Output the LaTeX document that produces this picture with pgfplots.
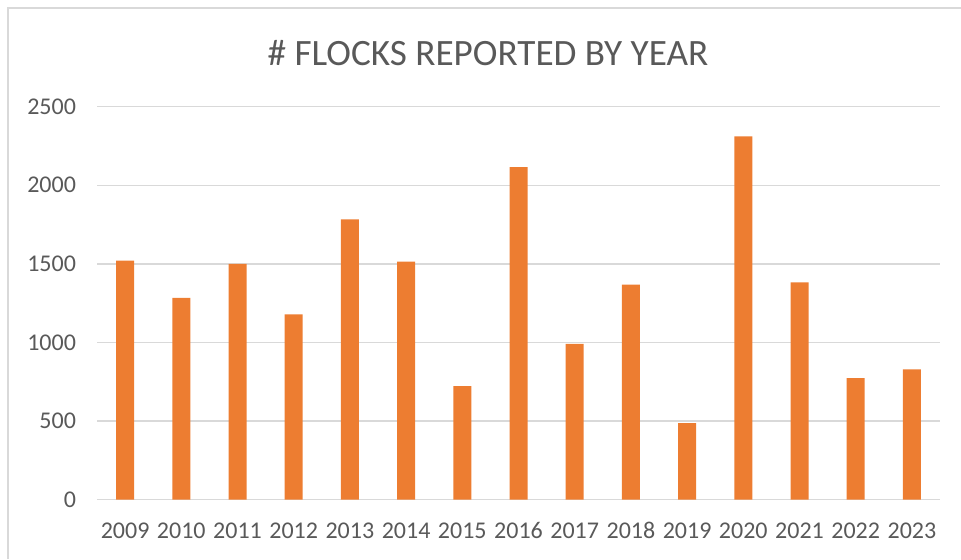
\documentclass[border=0pt]{standalone}
\usepackage{pgfplots}
\pgfplotsset{compat=1.18}
\usepackage{fontspec}
\setmainfont{Carlito}
\definecolor{barorange}{HTML}{ED7D31}
\definecolor{gridgrey}{HTML}{D9D9D9}
\definecolor{textgrey}{HTML}{595959}
\begin{document}
\begin{tikzpicture}
\path[use as bounding box] (0pt,0pt) rectangle (480.5pt,-279.5pt);
\draw[gridgrey, line width=0.6pt] (4pt,-279.5pt) -- (4pt,-4pt) -- (480.5pt,-4pt);
\node[text=textgrey, font=\fontsize{18.6}{22}\selectfont] at (244pt,-26.6pt) {\# FLOCKS REPORTED BY YEAR};
\begin{axis}[
  at={(48.5pt,-249.75pt)}, anchor=south west,
  scale only axis, width=421.5pt, height=196.4pt,
  xmin=-0.5, xmax=14.5, ymin=0, ymax=2500,
  ytick={0,500,1000,1500,2000,2500},
  xtick={0,...,14},
  xticklabels={2009,2010,2011,2012,2013,2014,2015,2016,2017,2018,2019,2020,2021,2022,2023},
  axis lines*=left,
  x axis line style={gridgrey, line width=0.7pt, -},
  y axis line style={draw=none, -},
  ymajorgrids, grid style={gridgrey, line width=0.7pt},
  major tick length=0pt,
  tick style={draw=none},
  /pgf/number format/assume math mode=true,
  /pgf/number format/1000 sep={},
  ticklabel style={text=textgrey, font=\fontsize{12}{14}\selectfont},
  yticklabel style={xshift=-7pt},
  xticklabel style={yshift=-8pt},
  ybar, bar width=9pt,
  clip=false,
]
\addplot[fill=barorange, draw=none] coordinates {
 (0,1520) (1,1284) (2,1499) (3,1179) (4,1783) (5,1514) (6,721) (7,2116)
 (8,991) (9,1367) (10,486) (11,2312) (12,1382) (13,772) (14,829)};
\end{axis}
\end{tikzpicture}
\end{document}
